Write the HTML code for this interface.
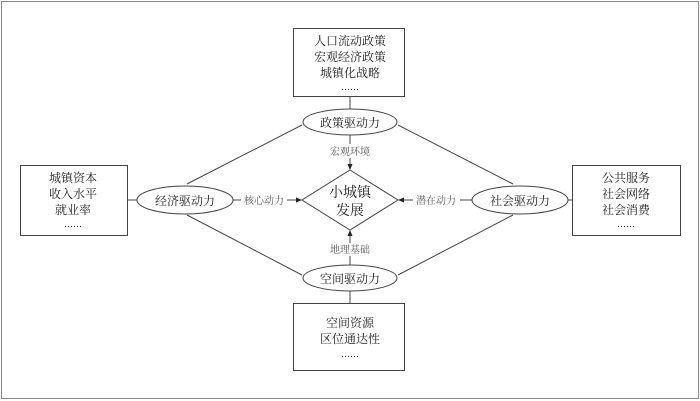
<!DOCTYPE html>
<html><head><meta charset="utf-8"><style>
body{margin:0;background:#fff}
svg{display:block}
text{font-family:"Liberation Serif","Noto Serif CJK SC",serif;fill:#222}
.s{font-size:10px;fill:#555}
</style></head><body>
<svg width="700" height="401" viewBox="0 0 700 401" xmlns="http://www.w3.org/2000/svg">
<defs><marker id="a" markerWidth="6" markerHeight="6" refX="5" refY="3" orient="auto"><path d="M0,0.5 L6,3 L0,5.5z" fill="#222"/></marker></defs>
<rect x="1.5" y="1.5" width="697" height="397" fill="none" stroke="#888" stroke-width="1"/>
<g stroke="#444" stroke-width="1" fill="none">
<rect x="293.5" y="28.5" width="111" height="68" fill="#fff"/>
<rect x="293.5" y="303.5" width="111" height="67" fill="#fff"/>
<rect x="20.5" y="165.5" width="107" height="70" fill="#fff"/>
<rect x="572.5" y="165.5" width="108" height="70" fill="#fff"/>
<line x1="350" y1="97" x2="350" y2="109"/>
<line x1="350" y1="291" x2="350" y2="303"/>
<line x1="128" y1="200" x2="137" y2="200"/>
<line x1="568" y1="200" x2="572" y2="200"/>
<line x1="187" y1="184" x2="302" y2="125"/>
<line x1="398" y1="125" x2="513" y2="184"/>
<line x1="187" y1="215" x2="302" y2="275"/>
<line x1="398" y1="275" x2="513" y2="215"/>
<ellipse cx="350" cy="122" rx="47" ry="13" fill="#fff"/>
<ellipse cx="350" cy="278" rx="47" ry="13" fill="#fff"/>
<ellipse cx="185" cy="200" rx="48" ry="14" fill="#fff"/>
<ellipse cx="520" cy="200" rx="48" ry="14" fill="#fff"/>
<polygon points="350,170 398,200 350,230 302,200" fill="#fff"/>
<line x1="350" y1="135" x2="350" y2="144"/>
<line x1="350" y1="158" x2="350" y2="169" marker-end="url(#a)"/>
<line x1="233" y1="200" x2="241" y2="200"/>
<line x1="287" y1="200" x2="301" y2="200" marker-end="url(#a)"/>
<line x1="472" y1="200" x2="460" y2="200"/>
<line x1="413" y1="200" x2="399" y2="200" marker-end="url(#a)"/>
<line x1="350" y1="265" x2="350" y2="256"/>
<line x1="350" y1="243" x2="350" y2="231" marker-end="url(#a)"/>
</g>
<g font-size="12" text-anchor="middle">
<text x="350" y="45">人口流动政策</text>
<text x="350" y="61">宏观经济政策</text>
<text x="350" y="77">城镇化战略</text>
<text x="350" y="90" font-size="9">……</text>
<text x="350" y="127">政策驱动力</text>
<text x="350" y="283">空间驱动力</text>
<text x="185" y="205">经济驱动力</text>
<text x="520" y="205">社会驱动力</text>
<text x="73" y="182">城镇资本</text>
<text x="73" y="198">收入水平</text>
<text x="73" y="214">就业率</text>
<text x="73" y="227" font-size="9">……</text>
<text x="626" y="182">公共服务</text>
<text x="626" y="198">社会网络</text>
<text x="626" y="214">社会消费</text>
<text x="626" y="227" font-size="9">……</text>
<text x="350" y="327">空间资源</text>
<text x="350" y="343">区位通达性</text>
<text x="350" y="357" font-size="9">……</text>
<text x="350" y="197" font-size="14">小城镇</text>
<text x="350" y="215" font-size="14">发展</text>
<text class="s" x="350" y="155">宏观环境</text>
<text class="s" x="264" y="204">核心动力</text>
<text class="s" x="436" y="204">潜在动力</text>
<text class="s" x="350" y="253">地理基础</text>
</g>
</svg>
</body></html>
